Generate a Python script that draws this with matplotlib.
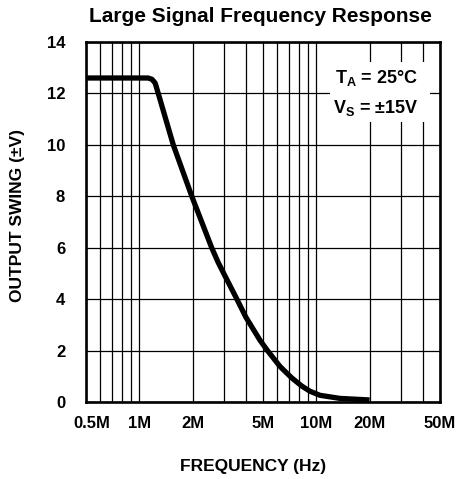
import matplotlib
matplotlib.use("Agg")
import matplotlib.pyplot as plt
from matplotlib import font_manager
from matplotlib.patches import Rectangle
from matplotlib.ticker import FixedLocator, NullFormatter
import matplotlib.transforms as mtransforms

# ---- data ----
freq_mhz = [0.5, 1.0, 1.12, 1.18, 1.23, 1.28, 1.556, 1.98, 2.565, 2.79, 3.0, 3.56, 4.0,
            4.81, 5.3, 6.24, 7.26, 8.28, 9.2, 10.5, 13.6, 20.0]
swing_v = [12.6, 12.6, 12.6, 12.55, 12.4, 12.0, 10.0, 8.0, 6.0, 5.43, 5.0, 4.0, 3.3,
           2.4, 2.0, 1.38, 0.94, 0.62, 0.42, 0.26, 0.14, 0.08]
xtick_vals = [0.5, 1, 2, 5, 10, 20, 50]
xtick_labels = ["0.5M", "1M", "2M", "5M", "10M", "20M", "50M"]
ytick_vals = [0, 2, 4, 6, 8, 10, 12, 14]
minor_vals = [0.6, 0.7, 0.8, 0.9, 3, 4, 6, 7, 8, 9, 30, 40]

avail = {f.name for f in font_manager.fontManager.ttflist}
reg = next((f for f in ["Liberation Sans", "Arial", "DejaVu Sans"] if f in avail), "DejaVu Sans")

plt.rcParams['mathtext.fontset'] = 'custom'
plt.rcParams['mathtext.bf'] = reg + ':bold'
plt.rcParams['mathtext.rm'] = reg + ':bold'
plt.rcParams['mathtext.it'] = reg + ':bold'
plt.rcParams['mathtext.default'] = 'bf'

fig = plt.figure(figsize=(4.59, 4.79), dpi=100)
ax = fig.add_axes([86/459, 1-402/479, (440-86)/459, (402-42)/479])

ax.set_xscale('log')
ax.set_xlim(0.5, 50)
ax.set_ylim(0, 14)

ax.plot(freq_mhz, swing_v, color='black', lw=3.8, solid_capstyle='butt',
        solid_joinstyle='round', zorder=4)

ax.xaxis.set_major_locator(FixedLocator(xtick_vals))
ax.xaxis.set_minor_locator(FixedLocator(minor_vals))
ax.xaxis.set_minor_formatter(NullFormatter())
ax.set_xticks(xtick_vals)
ax.set_xticklabels(xtick_labels)
ax.set_yticks(ytick_vals)
ax.set_yticklabels([str(v) for v in ytick_vals])

ax.grid(True, which='both', axis='x', color='black', lw=0.9)
ax.grid(True, which='major', axis='y', color='black', lw=0.9)
ax.tick_params(which='both', length=0)
ax.tick_params(axis='x', pad=10)
ax.tick_params(axis='y', pad=15)
for lab in ax.get_xticklabels() + ax.get_yticklabels():
    lab.set_fontfamily(reg)
    lab.set_fontweight('bold')
    lab.set_fontsize(12)
# first x label sits slightly right of its gridline, as in the original
first = ax.get_xticklabels()[0]
first.set_transform(first.get_transform() +
                    mtransforms.ScaledTranslation(6/100, 0, fig.dpi_scale_trans))
for s in ax.spines.values():
    s.set_linewidth(1.9)
ax.set_axisbelow(True)

# white panel behind the conditions note
ax.add_patch(Rectangle((0.689, 0.778), 0.283, 0.166, transform=ax.transAxes,
                       facecolor='white', edgecolor='none', zorder=2.5))
ax.text(0.938, (402-83)/360, "$T_A$ = 25°C", transform=ax.transAxes,
        ha='right', va='baseline', fontfamily=reg, fontweight='bold', fontsize=13, zorder=5)
ax.text(0.938, (402-113)/360, "$V_S$ = ±15V", transform=ax.transAxes,
        ha='right', va='baseline', fontfamily=reg, fontweight='bold', fontsize=13, zorder=5)

fig.text(260/459, 1-22.5/479, "Large Signal Frequency Response", ha='center', va='baseline',
         fontfamily=reg, fontweight='bold', fontsize=15)
fig.text(18/459, 1-216/479, "OUTPUT SWING (±V)", ha='center', va='center', rotation=90,
         fontfamily=reg, fontweight='bold', fontsize=12.5)
fig.text(253/459, 1-471.5/479, "FREQUENCY (Hz)", ha='center', va='baseline',
         fontfamily=reg, fontweight='bold', fontsize=12.5)

fig.savefig("out.png", dpi=100)
